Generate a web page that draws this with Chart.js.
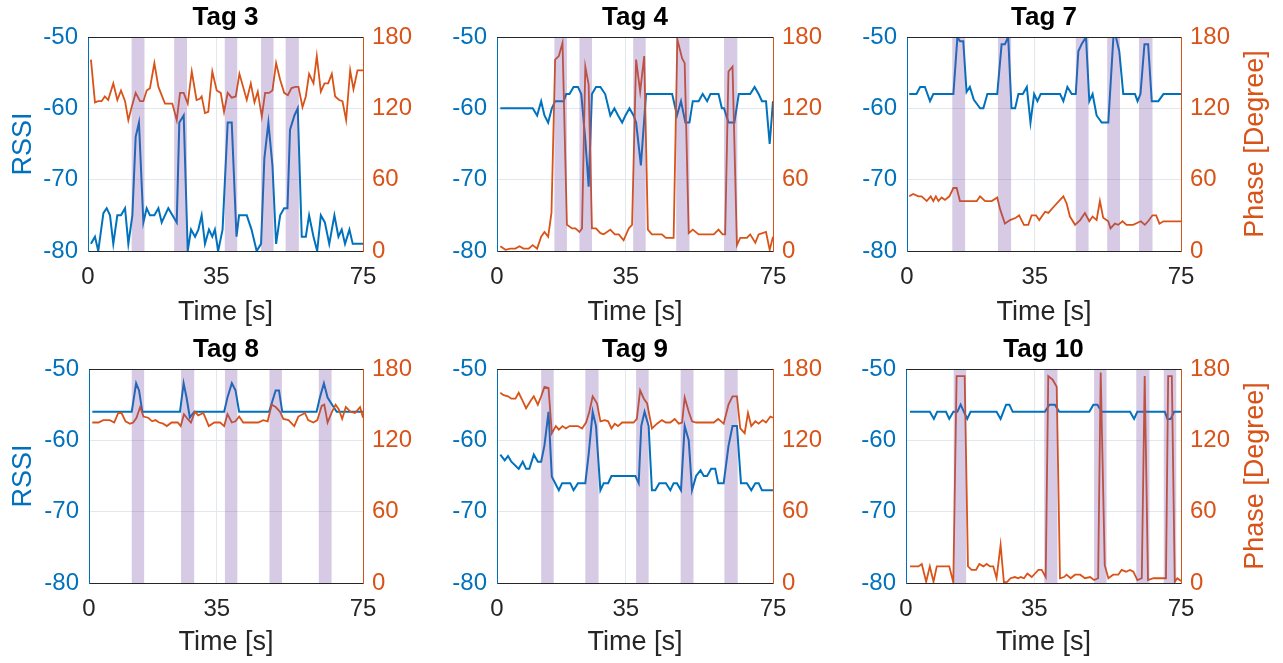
<!DOCTYPE html>
<html><head><meta charset="utf-8">
<script src="https://cdn.jsdelivr.net/npm/chart.js@4.4.0/dist/chart.umd.min.js"></script>
<style>
html,body{margin:0;padding:0;background:#fff;width:1283px;height:663px;overflow:hidden;}
.p{position:absolute;}
canvas{display:block;}
</style></head><body>
<script>
// ---------- data ----------
const timeTicks = [0, 35, 75];
const rssiRange = [-80, -50];
const phaseRange = [0, 180];

// Tag 3
const tag3RssiT = [0.8,1.9,2.8,4.2,5.1,6.0,6.9,8.0,9.0,10.1,11.0,12.1,13.0,13.9,15.1,16.0,16.9,18.1,19.2,20.1,21.9,24.2,24.9,26.1,27.2,28.1,29.2,30.1,31.0,31.9,33.0,33.9,34.6,35.5,36.7,38.1,39.2,40.5,41.2,43.3,44.6,46.0,47.2,48.1,49.2,50.3,51.3,52.4,53.5,54.4,55.1,56.3,57.2,58.3,59.4,60.3,61.5,62.5,63.5,64.6,65.8,67.2,68.3,69.2,70.1,71.3,72.2,73.3,75.0];
const tag3RssiV = [-79,-78,-80,-74.7,-74,-75,-79,-75,-75,-74,-79,-75,-64,-62,-76,-74,-75,-75,-74,-76,-74,-76,-62,-61,-80,-77,-78,-77,-75,-79,-77,-78,-77,-80,-77,-62,-62,-78,-75,-75,-77,-80,-79,-67,-62,-68,-79,-75,-74,-74,-63,-61,-60,-78,-78,-75,-78,-80,-75,-76,-79,-75,-78,-77,-79,-77,-79,-79,-79];
const tag3PhaseT = [0.8,1.9,2.8,3.7,4.6,5.5,6.9,8.0,9.0,10.1,11.0,11.9,13.0,14.2,15.1,16.0,16.9,18.1,19.2,21.0,23.0,24.2,25.1,26.1,27.2,28.3,29.6,30.5,31.0,31.9,32.8,33.9,35.1,36.2,37.1,38.1,39.2,40.3,41.3,42.4,43.3,44.4,45.4,46.3,47.4,48.3,49.4,50.3,51.3,52.4,53.5,54.5,55.5,56.6,57.4,58.5,59.4,60.3,61.5,62.4,63.5,64.5,65.5,66.5,67.4,68.5,69.4,70.4,71.5,72.4,73.5,75.0];
const tag3PhaseV = [161,125,126,126,130,127,141,127,135,126,110,121,133,126,126,135,137,158,138,124,124,110,133,133,124,151,127,128,130,116,117,151,135,133,117,133,129,130,149,137,127,141,125,134,113,133,133,135,158,144,133,131,137,138,138,121,130,149,141,164,134,141,141,149,130,127,126,110,152,136,152,152];
const tag3BandStart = [11.9,23.5,37.3,47.2,53.9];
const tag3BandEnd   = [15.4,27.0,40.7,50.6,57.5];

// Tag 4
const tag4RssiT = [0.9,9.7,10.9,12.0,12.9,13.9,14.9,15.8,18.1,18.8,19.7,20.8,22.0,22.9,24.0,24.9,25.8,26.9,28.1,29.4,30.8,31.9,32.9,34.0,34.9,36.0,37.1,37.8,39.1,40.5,41.7,47.6,48.9,50.0,51.2,52.3,53.2,54.8,55.9,57.1,58.0,60.2,61.1,61.7,62.9,64.5,65.7,68.8,70.0,71.1,72.0,73.1,74.1,75.0];
const tag4RssiV = [-60,-60,-61,-59,-61,-62,-60,-59,-59,-58,-58,-57,-57,-58,-64.4,-71,-58,-57,-57,-58,-61,-60,-61,-62,-61,-60,-61,-62,-68,-58,-58,-58,-61,-59,-62,-62,-59,-59,-58,-59,-58,-58,-60,-60,-62,-62,-58,-58,-57,-58,-59,-59,-65,-59];
const tag4PhaseT = [0.9,2.3,3.6,5.0,6.1,7.2,8.6,9.7,10.9,12.0,12.9,13.9,14.8,15.8,16.8,17.8,19.0,20.4,21.3,22.4,23.1,24.0,24.9,25.8,26.9,28.1,29.0,30.8,32.0,33.1,34.4,35.8,36.7,37.8,38.9,40.0,41.0,42.1,44.8,45.9,48.0,49.0,50.3,51.0,52.1,53.2,54.8,58.9,60.2,61.3,62.0,62.9,64.0,65.2,66.1,67.9,68.8,70.2,71.1,73.1,74.1,75.0];
const tag4PhaseV = [4,1,2,2,4,2,2,5,2,12,16,12,32,161,164,175,22,19,19,16,19,155,140,19,19,15,14,18,14,14,9,19,22,161,134,164,18,14,14,11,11,178,162,158,15,18,14,14,18,14,14,151,155,5,11,11,14,7,14,16,1,12];
const tag4BandStart = [15.6,22.4,37.0,48.7,61.7];
const tag4BandEnd   = [19.0,25.8,40.4,52.3,65.3];

// Tag 7
const tag7RssiT = [0.6,2.6,3.6,4.9,6.3,7.2,12.7,13.8,14.5,15.4,16.3,17.2,18.3,19.3,20.0,20.9,22.0,24.7,25.9,26.8,27.7,28.6,29.6,30.5,31.7,32.8,33.8,34.8,35.7,36.6,41.9,42.8,43.9,45.1,46.2,46.9,47.8,49.0,49.9,50.8,51.9,53.3,55.1,56.5,57.2,58.1,59.2,62.4,63.1,63.9,65.0,66.0,67.0,68.8,70.2,75.0];
const tag7RssiV = [-58,-58,-57,-57,-59,-58,-58,-50,-50.6,-50.6,-57.7,-57,-58.8,-59.5,-60,-60,-58,-58,-51,-51,-50,-60,-60,-58,-58,-57,-62,-58,-59,-58,-58,-59,-57,-58,-58,-52,-51,-50,-59,-58,-61,-62,-62,-50,-50,-52,-58,-58,-59,-58,-51,-51,-59,-59,-58,-58];
const tag7PhaseT = [0.6,1.7,3.1,4.0,5.4,6.5,7.2,7.9,8.6,9.5,10.4,11.6,12.7,13.6,14.5,19.1,20.0,21.4,23.2,24.7,25.5,26.8,28.2,29.8,30.7,32.0,33.2,34.1,35.3,36.2,37.8,38.7,40.1,41.9,42.8,43.7,44.6,46.0,47.4,48.7,49.9,50.8,51.9,52.8,53.7,55.1,55.7,56.9,57.8,59.0,60.1,61.9,64.0,65.1,66.0,67.2,68.2,69.1,70.2,75.0];
const tag7PhaseV = [46,48,46,46,42,46,42,46,42,45,43,46,53,53,42,42,46,42,42,45,35,23,26,28,30,22,22,30,30,26,33,32,37,43,46,40,29,22,26,32,25,29,26,42,28,25,19,23,22,25,22,22,25,22,25,30,30,23,25,25];
const tag7BandStart = [12.4,24.9,46.2,54.8,63.5];
const tag7BandEnd   = [15.9,28.5,49.7,58.3,67.2];

// Tag 8
const tag8RssiT = [0.9,11.7,12.9,13.7,14.6,24.9,25.9,26.7,27.6,28.8,37.0,37.9,39.1,40.1,41.1,49.3,50.5,51.1,52.0,52.9,62.3,63.2,64.3,65.3,66.9,67.8,75.0];
const tag8RssiV = [-56,-56,-52,-53,-56,-56,-52,-54,-56.8,-56,-56,-54,-52,-53,-56,-56,-54,-53,-53,-56,-56,-54,-52,-54,-55.3,-56,-56];
const tag8PhaseT = [0.9,2.6,3.9,5.7,6.9,8.0,8.9,10.0,11.2,12.1,13.0,14.0,14.9,16.2,17.3,18.2,19.2,20.3,21.3,22.6,24.3,25.1,26.0,27.0,27.9,29.0,29.9,31.3,32.8,34.3,35.9,37.0,37.9,39.1,40.1,41.1,42.2,46.3,47.7,48.9,50.0,51.1,52.3,53.2,54.6,56.2,57.3,59.1,60.0,61.4,62.5,63.7,64.4,65.3,66.5,67.5,68.4,69.3,70.3,71.6,72.8,74.2,75.0];
const tag8PhaseV = [135,135,137,137,135,143,143,136,134,135,139,148,140,139,136,137,135,134,132,135,135,132,142,138,135,144,141,143,132,135,135,132,142,135,136,140,135,135,137,136,150,148,144,138,137,132,140,143,137,135,137,149,150,135,144,150,146,138,148,144,143,148,139];
const tag8BandStart = [11.7,25.2,37.2,49.4,62.9];
const tag8BandEnd   = [15.1,28.8,40.6,52.8,66.4];

// Tag 9
const tag9RssiT = [0.9,2.1,3.0,3.9,5.9,7.0,7.9,8.8,10.0,11.1,12.0,12.9,14.0,14.9,16.8,17.7,19.9,20.8,22.0,24.0,24.9,26.0,26.9,28.1,29.0,30.2,31.1,37.6,38.5,39.2,40.1,41.2,42.1,43.0,44.1,45.9,47.1,48.0,48.9,50.0,51.0,52.1,53.0,54.1,55.3,56.2,57.1,58.2,59.3,60.1,61.6,62.9,64.0,65.2,66.3,67.9,69.1,70.2,71.1,72.0,75.0];
const tag9RssiV = [-62,-62.8,-62.2,-63,-64,-63,-64,-64,-62,-63,-63,-60.7,-56,-65.1,-67,-66,-66,-67,-66,-66,-62,-56,-58,-67,-66,-66,-65,-65,-66,-58,-56,-58,-67,-67,-66,-66,-67,-66,-66,-67,-58,-60,-67,-65,-64.2,-65,-65,-64,-64,-66,-66,-60.8,-58,-58,-66,-66,-67,-66,-66,-67,-67];
const tag9PhaseT = [0.9,1.8,3.0,3.9,5.0,5.9,7.0,7.9,9.1,10.0,11.1,12.0,12.9,14.0,14.9,16.0,16.8,17.8,18.7,19.7,22.0,23.1,24.2,25.1,26.0,27.2,28.1,29.3,30.2,31.1,32.0,32.9,34.0,37.1,38.0,38.9,39.9,40.8,42.1,43.5,44.8,45.9,47.1,48.3,49.4,50.3,51.0,52.1,53.0,54.1,58.9,60.1,61.6,62.9,64.0,65.2,66.1,67.3,68.2,69.1,70.2,71.1,72.2,73.1,74.3,75.0];
const tag9PhaseV = [160,158,157,155,155,160,153,147,153,157,150,157,165,164,126,132,129,132,130,132,132,130,135,144,157,151,136,137,136,130,134,132,135,135,138,162,155,151,130,134,137,135,135,138,134,135,156,144,136,135,135,138,134,150,157,157,130,126,143,132,136,134,137,135,140,139];
const tag9BandStart = [12.0,24.0,37.8,49.9,61.8];
const tag9BandEnd   = [15.4,27.6,41.2,53.4,65.4];

// Tag 10
const tag10RssiT = [1.1,6.5,7.6,8.5,10.9,11.8,12.9,14.0,14.9,15.8,16.7,17.6,24.7,25.8,27.3,28.2,29.1,37.9,39.1,40.6,41.8,50.0,51.1,52.2,53.4,61.1,62.2,63.1,70.6,71.3,72.2,73.1,75.0];
const tag10RssiV = [-56,-56,-57,-56,-56,-57,-56,-56,-55,-56,-57,-56,-56,-57,-55,-55,-56,-56,-55,-55,-56,-56,-55,-55,-56,-56,-57,-56,-56,-57,-57,-56,-56];
const tag10PhaseT = [1.1,3.4,4.3,5.5,6.5,7.5,8.4,11.8,12.9,13.8,16.0,16.9,17.9,19.1,20.0,21.1,22.0,22.9,23.8,24.7,25.8,26.7,27.6,28.5,29.7,30.6,31.3,32.2,33.1,34.3,35.2,36.1,37.0,38.1,38.8,40.0,41.1,42.0,43.1,43.8,44.9,46.1,47.5,48.8,50.2,51.3,52.4,53.1,54.2,55.2,56.5,57.9,58.8,60.0,61.1,62.0,63.1,64.3,65.1,66.0,67.5,70.9,71.5,72.5,73.3,74.0,75.0];
const tag10PhaseV = [14,14,16,1,14,1,14,14,0.5,174,174,14,11,11,16,14,16,14,14,4,32,0.5,1,4,5,4,5,4,8,5,8,11,11,5,174,171,165,4,5,7,4,7,7,4,5,2.5,4,177,15,4,7,7,11,9.5,11,9.5,2.5,4,174,2.5,4,4,174,174,1,4,1.7];
const tag10BandStart = [13.0,37.7,51.3,62.8,70.3];
const tag10BandEnd   = [16.4,41.3,54.7,66.4,73.7];

// ---------- styling / layout ----------
const FONT = "'Liberation Sans', Arial, Helvetica, sans-serif";
const BLUE = '#0072BD', ORANGE = '#D95319', DARK = '#262626', GRID = '#e3e8ee';

const panels = [
  {title:'Tag 3', rT:tag3RssiT, rV:tag3RssiV, pT:tag3PhaseT, pV:tag3PhaseV, bS:tag3BandStart, bE:tag3BandEnd, left:0,   top:0,   w:430, h:330, L:88, R:363, T:37, B:251, rssiTitle:true,  phaseTitle:false},
  {title:'Tag 4', rT:tag4RssiT, rV:tag4RssiV, pT:tag4PhaseT, pV:tag4PhaseV, bS:tag4BandStart, bE:tag4BandEnd, left:430, top:0,   w:425, h:330, L:67, R:343, T:37, B:251, rssiTitle:false, phaseTitle:false},
  {title:'Tag 7', rT:tag7RssiT, rV:tag7RssiV, pT:tag7PhaseT, pV:tag7PhaseV, bS:tag7BandStart, bE:tag7BandEnd, left:855, top:0,   w:428, h:330, L:52, R:326, T:37, B:251, rssiTitle:false, phaseTitle:true},
  {title:'Tag 8', rT:tag8RssiT, rV:tag8RssiV, pT:tag8PhaseT, pV:tag8PhaseV, bS:tag8BandStart, bE:tag8BandEnd, left:0,   top:330, w:430, h:333, L:89, R:363, T:39, B:253, rssiTitle:true,  phaseTitle:false},
  {title:'Tag 9', rT:tag9RssiT, rV:tag9RssiV, pT:tag9PhaseT, pV:tag9PhaseV, bS:tag9BandStart, bE:tag9BandEnd, left:430, top:330, w:425, h:333, L:67, R:343, T:39, B:253, rssiTitle:false, phaseTitle:false},
  {title:'Tag 10',rT:tag10RssiT,rV:tag10RssiV,pT:tag10PhaseT,pV:tag10PhaseV,bS:tag10BandStart,bE:tag10BandEnd,left:855, top:330, w:428, h:333, L:51, R:326, T:39, B:253, rssiTitle:false, phaseTitle:true}
];

function pts(t, v) { return t.map((x, i) => ({x: x, y: v[i]})); }

const overlay = {
  id: 'overlay',
  afterDatasetsDraw(chart, args, o) {
    const {ctx, chartArea: a} = chart;
    const xs = chart.scales.x;
    ctx.save();
    ctx.fillStyle = 'rgba(120,80,170,0.3)';
    o.bS.forEach((s, i) => {
      const x0 = xs.getPixelForValue(s), x1 = xs.getPixelForValue(o.bE[i]);
      ctx.fillRect(x0, a.top, x1 - x0, a.bottom - a.top);
    });
    ctx.restore();
  },
  afterDraw(chart, args, o) {
    const {ctx, chartArea: a} = chart;
    ctx.save();
    ctx.strokeStyle = DARK; ctx.lineWidth = 1;
    const y = Math.round(a.top) + 0.5;
    ctx.beginPath(); ctx.moveTo(a.left, y); ctx.lineTo(a.right, y); ctx.stroke();
    if (o.phaseTitle) {
      ctx.font = '27px ' + FONT;
      ctx.fillStyle = ORANGE; ctx.textAlign = 'center'; ctx.textBaseline = 'middle';
      ctx.translate(o.phaseX, (a.top + a.bottom) / 2);
      ctx.rotate(-Math.PI / 2);
      ctx.fillText('Phase [Degree]', 0, 0);
    }
    ctx.restore();
  }
};

panels.forEach((p, idx) => {
  const div = document.createElement('div');
  div.className = 'p';
  div.style.left = p.left + 'px'; div.style.top = p.top + 'px';
  div.style.width = p.w + 'px'; div.style.height = p.h + 'px';
  const cv = document.createElement('canvas');
  cv.width = p.w; cv.height = p.h;
  cv.style.width = p.w + 'px'; cv.style.height = p.h + 'px';
  div.appendChild(cv);
  document.body.appendChild(div);

  const titleTop = p.T - 37 + 2.6;
  const titleBottom = p.T - titleTop - 31.2;
  const timePadBottom = p.h - 313 - 16.2;

  new Chart(cv, {
    type: 'line',
    data: {
      datasets: [
        {label: 'RSSI', data: pts(p.rT, p.rV), yAxisID: 'y', borderColor: BLUE, backgroundColor: BLUE, borderWidth: 2, pointRadius: 0, tension: 0, order: 2},
        {label: 'Phase', data: pts(p.pT, p.pV), yAxisID: 'y1', borderColor: ORANGE, backgroundColor: ORANGE, borderWidth: 1.8, pointRadius: 0, tension: 0, order: 1}
      ]
    },
    plugins: [overlay],
    options: {
      responsive: false, animation: false, events: [],
      layout: {padding: 0},
      plugins: {
        legend: {display: false},
        tooltip: {enabled: false},
        title: {display: true, text: p.title, fullSize: false, color: '#000',
          font: {family: FONT, size: 26, weight: 'bold', lineHeight: 1.2},
          padding: {top: titleTop, bottom: titleBottom}},
        overlay: {bS: p.bS, bE: p.bE, phaseTitle: p.phaseTitle, phaseX: 401}
      },
      scales: {
        x: {
          type: 'linear', position: 'bottom', min: 0, max: 75,
          afterBuildTicks: s => { s.ticks = timeTicks.map(v => ({value: v})); },
          afterFit: s => { s.height = p.h - p.B; },
          grid: {color: GRID, lineWidth: 1, drawTicks: false},
          border: {color: DARK, width: 1},
          ticks: {color: DARK, font: {family: FONT, size: 24}, padding: 12, autoSkip: false, maxRotation: 0},
          title: {display: true, text: 'Time [s]', color: DARK, font: {family: FONT, size: 27}, padding: {top: 0, bottom: timePadBottom}}
        },
        y: {
          type: 'linear', position: 'left', min: rssiRange[0], max: rssiRange[1],
          afterFit: s => { s.width = p.L; },
          grid: {color: GRID, lineWidth: 1, drawTicks: false},
          border: {color: BLUE, width: 1},
          ticks: {stepSize: 10, color: BLUE, font: {family: FONT, size: 24}, padding: 10},
          title: {display: p.rssiTitle, text: 'RSSI', color: BLUE, font: {family: FONT, size: 27}, padding: {top: 7, bottom: 0}}
        },
        y1: {
          type: 'linear', position: 'right', min: phaseRange[0], max: phaseRange[1],
          afterFit: s => { s.width = p.w - p.R; },
          grid: {display: false, drawTicks: false},
          border: {color: ORANGE, width: 1},
          ticks: {stepSize: 60, color: ORANGE, font: {family: FONT, size: 24}, padding: 9}
        }
      }
    }
  });
});
</script>
</body></html>
